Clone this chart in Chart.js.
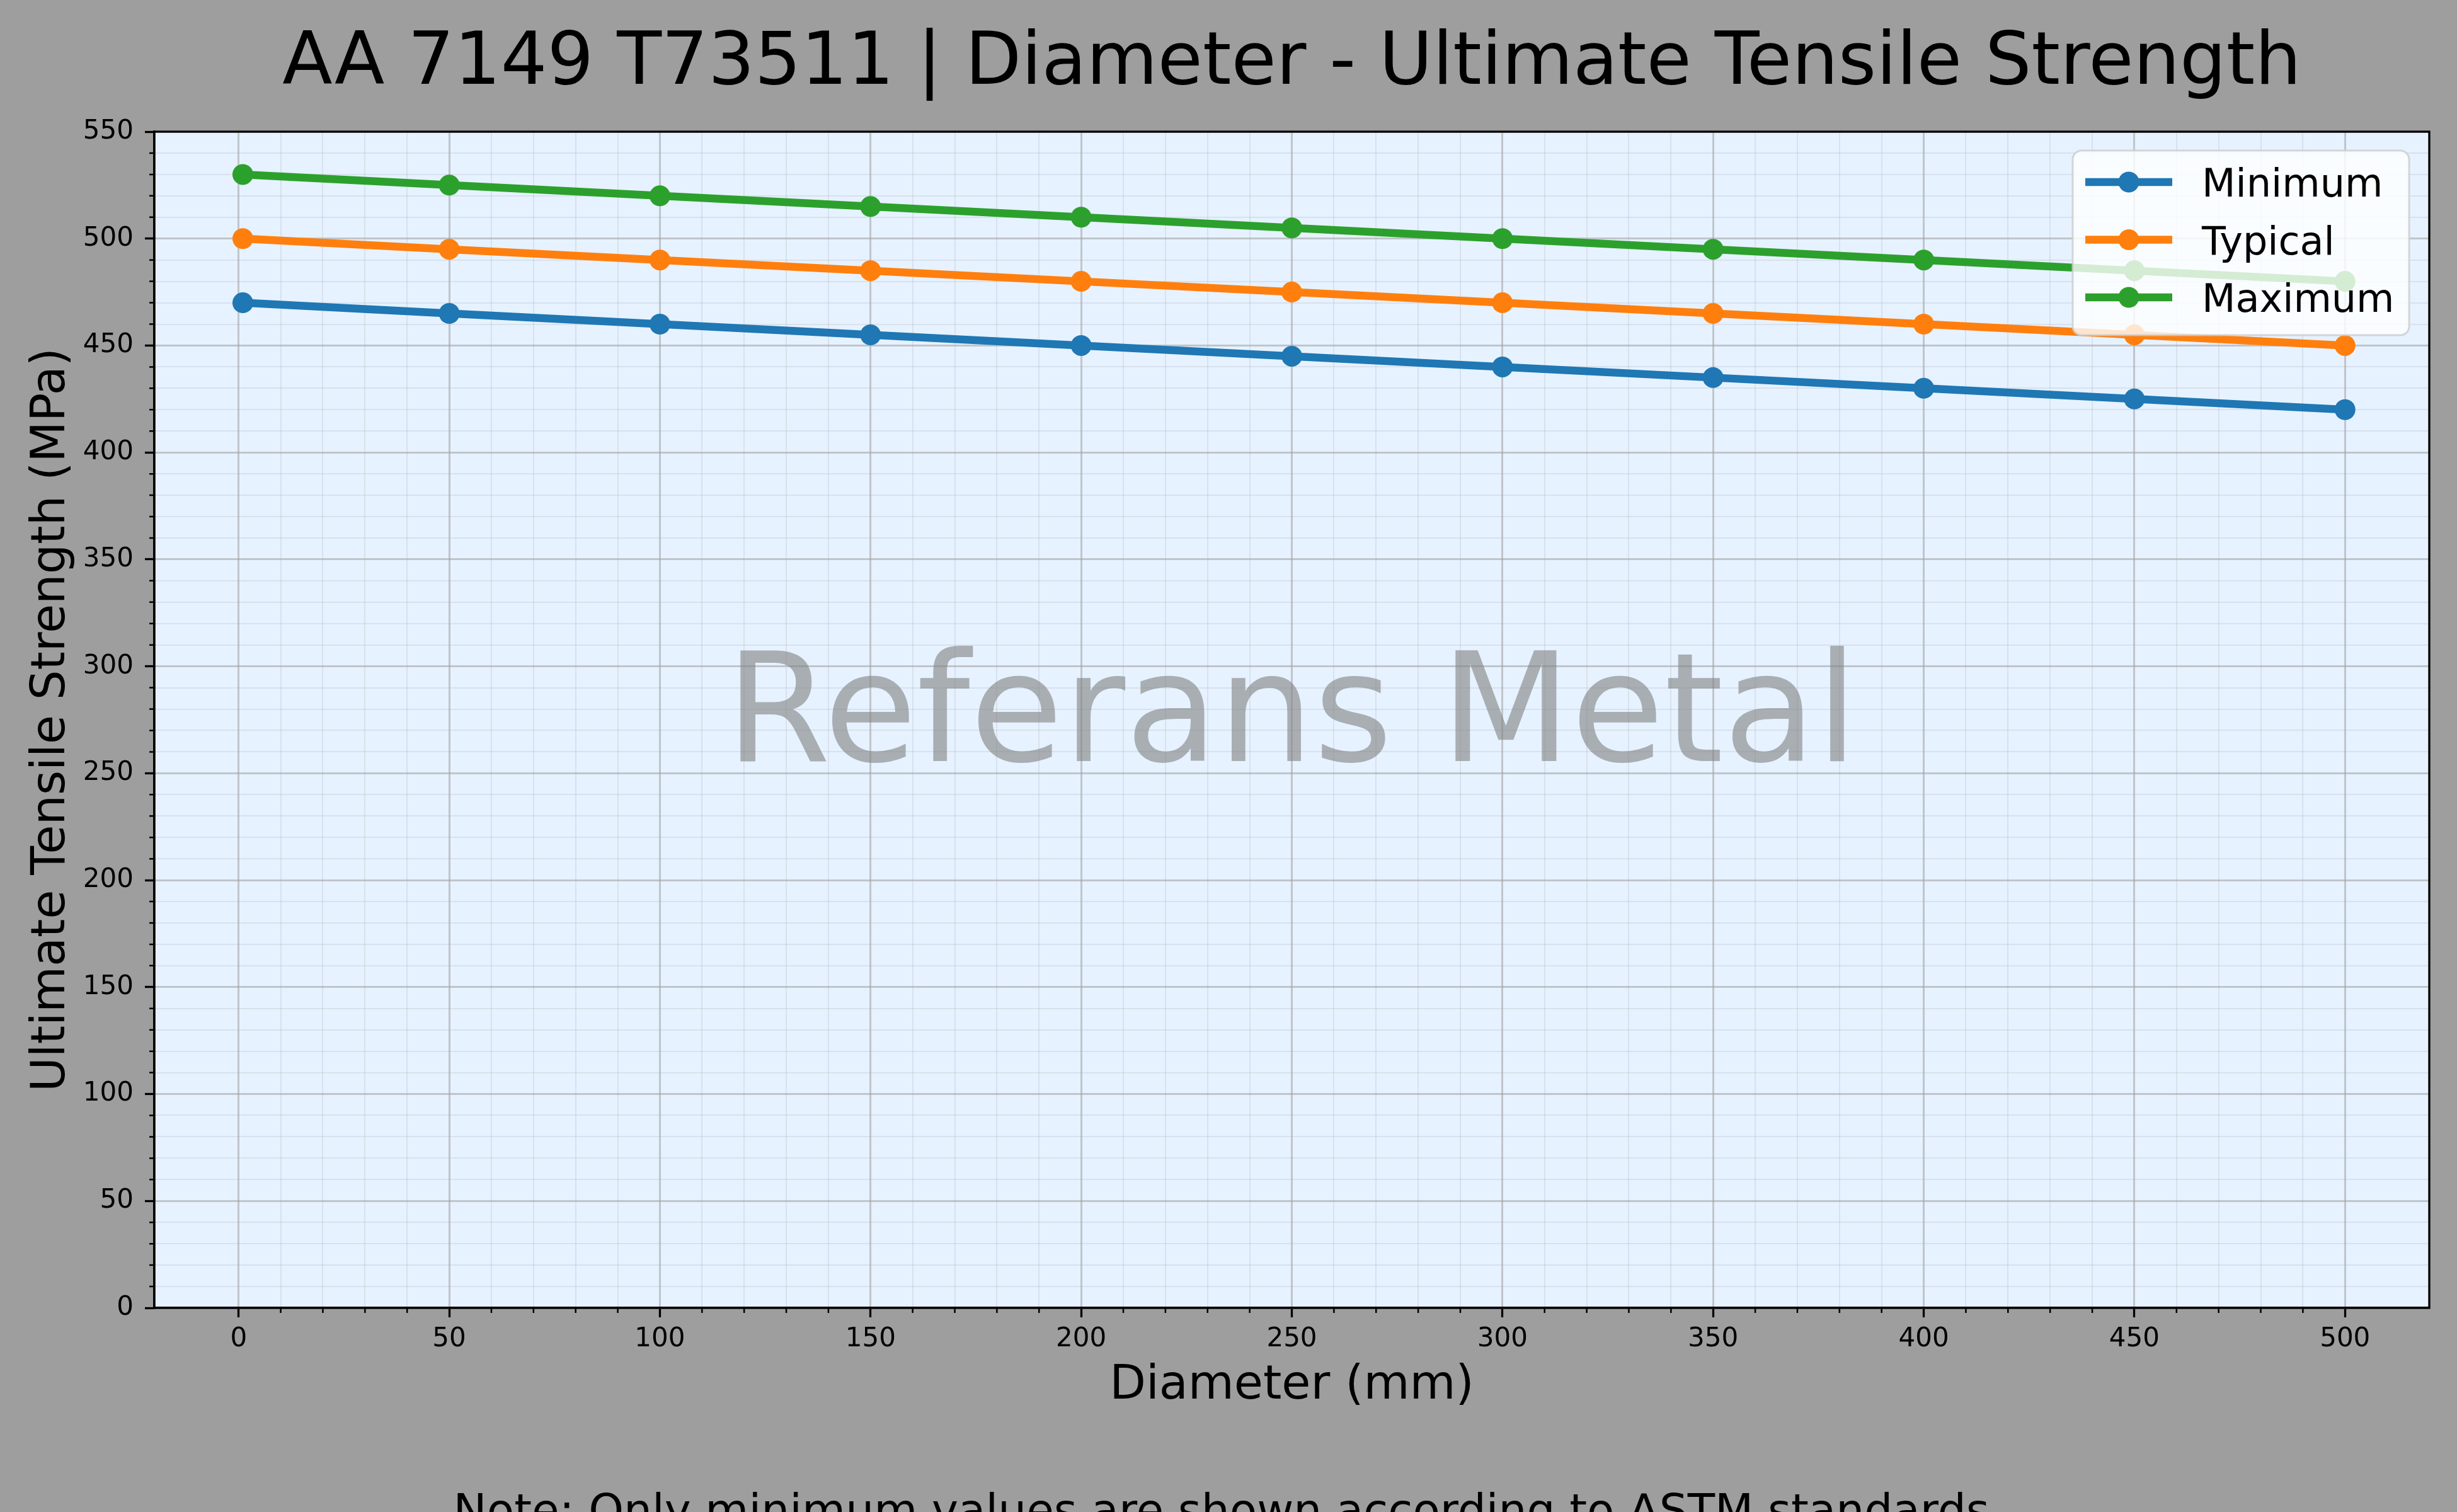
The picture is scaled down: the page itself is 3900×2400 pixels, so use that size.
<!DOCTYPE html>
<html>
<head>
<meta charset="utf-8">
<script src="https://cdn.jsdelivr.net/npm/chart.js@4.4.0/dist/chart.umd.min.js"></script>
<style>
  html, body { margin: 0; padding: 0; background: #9e9e9e; overflow: hidden; }
  canvas { display: block; }
</style>
</head>
<body>
<canvas id="lineChart" width="3900" height="2400"></canvas>
<script>
// chart data
const diameters = [1, 50, 100, 150, 200, 250, 300, 350, 400, 450, 500];
const minimumValues = [470, 465, 460, 455, 450, 445, 440, 435, 430, 425, 420];
const typicalValues = [500, 495, 490, 485, 480, 475, 470, 465, 460, 455, 450];
const maximumValues = [530, 525, 520, 515, 510, 505, 500, 495, 490, 485, 480];
const seriesNames = ["Minimum", "Typical", "Maximum"];

// tick labels
const xTickLabels = [0, 50, 100, 150, 200, 250, 300, 350, 400, 450, 500];
const yTickLabels = [0, 50, 100, 150, 200, 250, 300, 350, 400, 450, 500, 550];

const FONT = '"DejaVu Sans", sans-serif';
const colors = ["#1f77b4", "#ff7f0e", "#2ca02c"];

const toPoints = (values) => diameters.map((d, i) => ({ x: d, y: values[i] }));

const isMajorX = (v) => xTickLabels.includes(v);
const isMajorY = (v) => yTickLabels.includes(v);
const inMinorX = (v) => v >= 0 && v <= 500;

const decorPlugin = {
  id: "decor",
  beforeDraw(chart) {
    const { ctx, chartArea: a } = chart;
    ctx.save();
    ctx.fillStyle = "#9e9e9e";
    ctx.fillRect(0, 0, chart.width, chart.height);
    ctx.fillStyle = "#e6f2ff";
    ctx.fillRect(a.left, a.top, a.right - a.left, a.bottom - a.top);
    ctx.restore();
  },
  beforeDatasetsDraw(chart) {
    const { ctx, chartArea: a, scales } = chart;
    ctx.save();
    // minor ticks
    ctx.strokeStyle = "#000";
    ctx.lineWidth = 2.5;
    ctx.beginPath();
    for (let v = 0; v <= 500; v += 10) {
      if (isMajorX(v)) continue;
      const px = scales.x.getPixelForValue(v);
      ctx.moveTo(px, a.bottom);
      ctx.lineTo(px, a.bottom + 8);
    }
    for (let v = 0; v <= 550; v += 10) {
      if (isMajorY(v)) continue;
      const py = scales.y.getPixelForValue(v);
      ctx.moveTo(a.left, py);
      ctx.lineTo(a.left - 8, py);
    }
    ctx.stroke();

    // watermark
    ctx.fillStyle = "rgba(128, 128, 128, 0.6)";
    ctx.font = "240px " + FONT;
    ctx.textAlign = "center";
    ctx.textBaseline = "alphabetic";
    ctx.fillText("Referans Metal", (a.left + a.right) / 2, 1208);
    ctx.restore();
  },
  afterDatasetsDraw(chart) {
    const { ctx, chartArea: a } = chart;
    ctx.save();
    // frame
    ctx.strokeStyle = "#000";
    ctx.lineWidth = 3.3;
    ctx.strokeRect(a.left, a.top, a.right - a.left, a.bottom - a.top);

    // legend
    const bx = 3290, by = 239, bw = 534, bh = 293, r = 14;
    ctx.beginPath();
    ctx.roundRect(bx, by, bw, bh, r);
    ctx.fillStyle = "rgba(255, 255, 255, 0.8)";
    ctx.fill();
    ctx.strokeStyle = "rgba(204, 204, 204, 0.8)";
    ctx.lineWidth = 3;
    ctx.stroke();

    ctx.font = "62px " + FONT;
    ctx.textAlign = "left";
    ctx.textBaseline = "alphabetic";
    seriesNames.forEach((name, i) => {
      const cy = 289 + i * 91.5;
      ctx.strokeStyle = colors[i];
      ctx.lineWidth = 12.5;
      ctx.beginPath();
      ctx.moveTo(3310, cy);
      ctx.lineTo(3448, cy);
      ctx.stroke();
      ctx.fillStyle = colors[i];
      ctx.beginPath();
      ctx.arc(3379, cy, 16.5, 0, Math.PI * 2);
      ctx.fill();
      ctx.fillStyle = "#000";
      ctx.fillText(name, 3495, cy + 23);
    });
    ctx.restore();
  },
  afterDraw(chart) {
    const { ctx, chartArea: a } = chart;
    const cx = (a.left + a.right) / 2;
    ctx.save();
    ctx.fillStyle = "#000";
    ctx.textAlign = "center";
    ctx.textBaseline = "alphabetic";

    ctx.font = "116px " + FONT;
    ctx.fillText("AA 7149 T73511 | Diameter - Ultimate Tensile Strength", cx, 133);

    ctx.font = "75px " + FONT;
    ctx.fillText("Diameter (mm)", cx, 2220);

    ctx.save();
    ctx.translate(102, (a.top + a.bottom) / 2);
    ctx.rotate(-Math.PI / 2);
    ctx.fillText("Ultimate Tensile Strength (MPa)", 0, 0);
    ctx.restore();

    ctx.font = "71px " + FONT;
    ctx.fillText("Note: Only minimum values are shown according to ASTM standards.", 1950, 2422);
    ctx.restore();
  },
};

const datasetStyle = (i) => ({
  borderColor: colors[i],
  backgroundColor: colors[i],
  borderWidth: 12.5,
  pointRadius: 16.5,
  pointHoverRadius: 16.5,
  pointBorderWidth: 0,
  tension: 0,
  fill: false,
});

const chartElement = document.getElementById("lineChart").getContext("2d");

const lineChart = new Chart(chartElement, {
  type: "line",
  data: {
    datasets: [
      { label: seriesNames[0], data: toPoints(minimumValues), ...datasetStyle(0), order: 3 },
      { label: seriesNames[1], data: toPoints(typicalValues), ...datasetStyle(1), order: 2 },
      { label: seriesNames[2], data: toPoints(maximumValues), ...datasetStyle(2), order: 1 },
    ],
  },
  options: {
    responsive: false,
    devicePixelRatio: 1,
    animation: false,
    events: [],
    layout: { padding: { top: 209, right: 44, bottom: 0, left: 0 } },
    plugins: {
      legend: { display: false },
      title: { display: false },
      tooltip: { enabled: false },
    },
    scales: {
      x: {
        type: "linear",
        min: -20,
        max: 520,
        afterFit: (scale) => { scale.height = 324; },
        border: { display: true, color: "#000", width: 3.3 },
        grid: {
          color: (c) => !inMinorX(c.tick.value) ? "rgba(0,0,0,0)"
            : isMajorX(c.tick.value) ? "rgba(160,160,160,0.55)" : "rgba(160,160,160,0.2)",
          lineWidth: (c) => isMajorX(c.tick.value) ? 3 : 2,
          tickColor: (c) => isMajorX(c.tick.value) ? "#000" : "rgba(0,0,0,0)",
          tickWidth: 3.3,
          tickLength: 15,
        },
        ticks: {
          stepSize: 10,
          autoSkip: false,
          maxRotation: 0,
          minRotation: 0,
          padding: 10,
          color: "#000",
          font: { family: FONT, size: 42 },
          callback: (v) => isMajorX(v) ? String(v) : "",
        },
      },
      y: {
        type: "linear",
        min: 0,
        max: 550,
        afterFit: (scale) => { scale.width = 245; },
        border: { display: true, color: "#000", width: 3.3 },
        grid: {
          color: (c) => isMajorY(c.tick.value) ? "rgba(160,160,160,0.55)" : "rgba(160,160,160,0.2)",
          lineWidth: (c) => isMajorY(c.tick.value) ? 3 : 2,
          tickColor: (c) => isMajorY(c.tick.value) ? "#000" : "rgba(0,0,0,0)",
          tickWidth: 3.3,
          tickLength: 15,
        },
        ticks: {
          stepSize: 10,
          autoSkip: false,
          padding: 18,
          color: "#000",
          font: { family: FONT, size: 42 },
          callback: (v) => isMajorY(v) ? String(v) : "",
        },
      },
    },
  },
  plugins: [decorPlugin],
});
</script>
</body>
</html>
